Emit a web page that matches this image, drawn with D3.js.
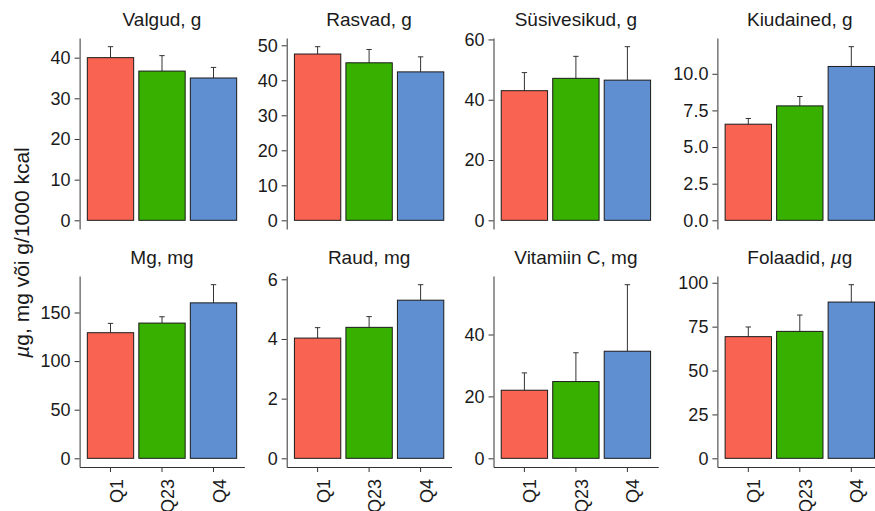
<!DOCTYPE html>
<html>
<head>
<meta charset="utf-8">
<script src="https://cdn.jsdelivr.net/npm/d3@7"></script>
<style>
  body { margin: 0; background: #fff; }
  svg text { font-family: "Liberation Sans", Arial, sans-serif; fill: #1a1a1a; }
  .axis path, .axis line { stroke: #333; }
</style>
</head>
<body>
<svg id="chart"></svg>
<script>
const categories = ["Q1", "Q23", "Q4"];
const colors = ["#F96452", "#38B000", "#5F8FD1"];

const titles = ["Valgud, g", "Rasvad, g", "Süsivesikud, g", "Kiudained, g",
                "Mg, mg", "Raud, mg", "Vitamiin C, mg", "Folaadid, "];

// mean values per panel (Q1, Q23, Q4)
const valgud = [40.0, 36.7, 35.0];
const rasvad = [47.5, 45.0, 42.4];
const susivesikud = [43.0, 47.1, 46.5];
const kiudained = [6.56, 7.81, 10.5];
const mg = [129.2, 139.1, 159.9];
const raud = [4.03, 4.39, 5.30];
const vitC = [22.0, 24.8, 34.6];
const folaadid = [69.3, 72.3, 89.0];

// top of error bar (mean + SE)
const valgudUp = [42.7, 40.5, 37.6];
const rasvadUp = [49.6, 48.8, 46.7];
const susivesikudUp = [49.0, 54.4, 57.6];
const kiudainedUp = [6.95, 8.45, 11.85];
const mgUp = [138.8, 145.6, 178.6];
const raudUp = [4.38, 4.75, 5.82];
const vitCUp = [27.6, 34.1, 56.1];
const folaadidUp = [74.8, 81.6, 98.9];

const yTicks = [
  [0, 10, 20, 30, 40],
  [0, 10, 20, 30, 40, 50],
  [0, 20, 40, 60],
  [0, 2.5, 5, 7.5, 10],
  [0, 50, 100, 150],
  [0, 2, 4, 6],
  [0, 20, 40],
  [0, 25, 50, 75, 100]
];
const tickFormats = ["d", "d", "d", ".1f", "d", "d", "d", "d"];

const means = [valgud, rasvad, susivesikud, kiudained, mg, raud, vitC, folaadid];
const uppers = [valgudUp, rasvadUp, susivesikudUp, kiudainedUp, mgUp, raudUp, vitCUp, folaadidUp];

const svgWidth = 875, svgHeight = 511;
const panelLefts = [79.6, 286.7, 493.5, 717.4];
const rowTops = [38, 276];
const panelW = 164.8, panelH = 191;

const svg = d3.select("#chart")
  .attr("width", svgWidth)
  .attr("height", svgHeight);

means.forEach((vals, i) => {
  const row = Math.floor(i / 4), col = i % 4;
  const g = svg.append("g")
    .attr("transform", `translate(${panelLefts[col]},${rowTops[row]})`);

  const maxV = d3.max(uppers[i]);
  const y = d3.scaleLinear()
    .domain([-0.05 * maxV, 1.05 * maxV])
    .range([panelH, 0]);

  const x = d3.scaleBand()
    .domain(categories)
    .range([0, panelW])
    .paddingInner(0.1)
    .paddingOuter(0.15);

  const data = categories.map((c, j) => ({ cat: c, v: vals[j], up: uppers[i][j], color: colors[j] }));

  // error bars (upper half only)
  g.selectAll(".err")
    .data(data)
    .enter()
    .append("line")
    .attr("x1", d => x(d.cat) + x.bandwidth() / 2)
    .attr("x2", d => x(d.cat) + x.bandwidth() / 2)
    .attr("y1", d => y(d.v))
    .attr("y2", d => y(d.up))
    .attr("stroke", "#333")
    .attr("stroke-width", 1);

  g.selectAll(".cap")
    .data(data)
    .enter()
    .append("line")
    .attr("x1", d => x(d.cat) + x.bandwidth() / 2 - 2.7)
    .attr("x2", d => x(d.cat) + x.bandwidth() / 2 + 2.7)
    .attr("y1", d => y(d.up))
    .attr("y2", d => y(d.up))
    .attr("stroke", "#333")
    .attr("stroke-width", 1);

  g.selectAll(".bar")
    .data(data)
    .enter()
    .append("rect")
    .attr("x", d => x(d.cat))
    .attr("y", d => y(d.v))
    .attr("width", x.bandwidth())
    .attr("height", d => y(0) - y(d.v))
    .attr("fill", d => d.color)
    .attr("stroke", "#1a1a1a")
    .attr("stroke-width", 1);

  const yAxis = d3.axisLeft(y)
    .tickValues(yTicks[i])
    .tickSizeInner(5)
    .tickSizeOuter(0)
    .tickPadding(4)
    .tickFormat(d3.format(tickFormats[i]));

  const ya = g.append("g")
    .attr("class", "axis")
    .call(yAxis);
  ya.selectAll("text").style("font-size", "18px").attr("fill", "#1a1a1a");

  if (row === 1) {
    const xa = g.append("g")
      .attr("class", "axis")
      .attr("transform", `translate(0,${panelH})`)
      .call(d3.axisBottom(x).tickSizeInner(5).tickSizeOuter(0));
    xa.selectAll("text")
      .style("font-size", "18px")
      .attr("fill", "#1a1a1a")
      .attr("text-anchor", "end")
      .attr("dy", null)
      .attr("y", 0)
      .attr("transform", "translate(12,12) rotate(-90)");
  }

  const title = g.append("text")
    .attr("x", panelW / 2)
    .attr("y", -12)
    .attr("text-anchor", "middle")
    .style("font-size", "19px")
    .text(titles[i]);
  if (i === 7) {
    title.append("tspan").style("font-style", "italic").text("µ");
    title.append("tspan").text("g");
  }
});

// shared y label
const yl = svg.append("text")
  .attr("transform", `translate(29,${(rowTops[0] + rowTops[1] + panelH) / 2}) rotate(-90)`)
  .attr("text-anchor", "middle")
  .style("font-size", "21px");
yl.append("tspan").style("font-style", "italic").text("µ");
yl.append("tspan").text("g, mg või g/1000 kcal");
</script>
</body>
</html>
